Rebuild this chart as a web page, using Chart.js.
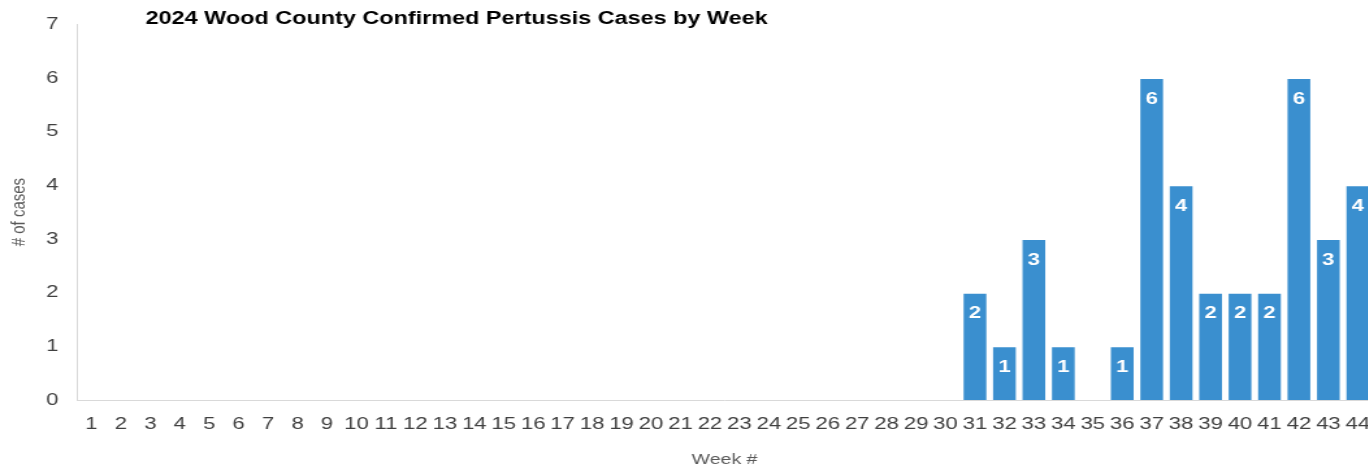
<!DOCTYPE html>
<html>
<head>
<meta charset="utf-8">
<script src="https://cdn.jsdelivr.net/npm/chart.js@4"></script>
<style>
  html, body { margin: 0; padding: 0; background: #fff; overflow: hidden; }
  /* the source picture is stretched sideways, so the whole chart is too */
  .wrap { width: 1068px; height: 469px; transform: scaleX(1.3); transform-origin: 0 0; }
</style>
</head>
<body>
<div class="wrap"><canvas id="chart" width="1068" height="469"></canvas></div>
<script>
// weeks 1..44
const weeks = []
for (let i = 1; i <= 44; i++) weeks.push(String(i))

const cases = [
  0, 0, 0, 0, 0, 0, 0, 0, 0, 0,
  0, 0, 0, 0, 0, 0, 0, 0, 0, 0,
  0, 0, 0, 0, 0, 0, 0, 0, 0, 0,
  2, 1, 3, 1, 0, 1, 6, 4, 2, 2,
  2, 6, 3, 4
]

const titleText = '2024 Wood County Confirmed Pertussis Cases by Week'
const barColor = '#3A8FCF'
const fontFamily = '"Liberation Sans", Arial, sans-serif'

// title sits over the plot, left of centre
const titlePlugin = {
  id: 'floatTitle',
  afterDraw (chart) {
    const ctx = chart.ctx
    ctx.save()
    ctx.font = 'bold 18px ' + fontFamily
    ctx.fillStyle = '#000'
    ctx.textBaseline = 'middle'
    ctx.textAlign = 'left'
    ctx.fillText(titleText, 112, 19)
    ctx.restore()
  }
}

// white value labels near the top of each bar
const valueLabels = {
  id: 'valueLabels',
  afterDatasetsDraw (chart) {
    const ctx = chart.ctx
    const meta = chart.getDatasetMeta(0)
    ctx.save()
    ctx.font = 'bold 17px ' + fontFamily
    ctx.fillStyle = '#fff'
    ctx.textAlign = 'center'
    ctx.textBaseline = 'middle'
    meta.data.forEach((bar, i) => {
      const v = cases[i]
      if (!v) return
      ctx.fillText(String(v), bar.x, bar.y + 21)
    })
    ctx.restore()
  }
}

new Chart(document.getElementById('chart').getContext('2d'), {
  type: 'bar',
  data: {
    labels: weeks,
    datasets: [{
      label: '# of cases',
      data: cases,
      backgroundColor: barColor,
      borderColor: 'rgba(255,255,255,0.35)',
      borderWidth: 1,
      barPercentage: 0.86,
      categoryPercentage: 1
    }]
  },
  options: {
    responsive: false,
    animation: false,
    layout: { padding: { top: 5, right: 5, left: 0, bottom: 0 } },
    plugins: {
      legend: { display: false },
      tooltip: { enabled: false },
      title: { display: false }
    },
    scales: {
      x: {
        grid: { display: false, drawTicks: false },
        border: { display: true, color: '#d9d9d9', width: 1 },
        ticks: {
          color: '#404040',
          font: { family: fontFamily, size: 17 },
          padding: 14,
          maxRotation: 0,
          autoSkip: false
        },
        title: {
          display: true,
          text: 'Week #',
          color: '#595959',
          font: { family: fontFamily, size: 15 },
          padding: { top: 0, bottom: 0 }
        },
        afterFit (scale) { scale.height = 69 }
      },
      y: {
        min: 0,
        max: 7,
        grid: { display: false, drawTicks: false },
        border: { display: true, color: '#d9d9d9', width: 1 },
        ticks: {
          stepSize: 1,
          color: '#404040',
          font: { family: fontFamily, size: 17 },
          padding: 14
        },
        title: {
          display: true,
          text: '# of cases',
          color: '#595959',
          font: { family: fontFamily, size: 15 },
          padding: { top: 6, bottom: 0 }
        },
        afterFit (scale) { scale.width = 59 }
      }
    }
  },
  plugins: [titlePlugin, valueLabels]
})
</script>
</body>
</html>
